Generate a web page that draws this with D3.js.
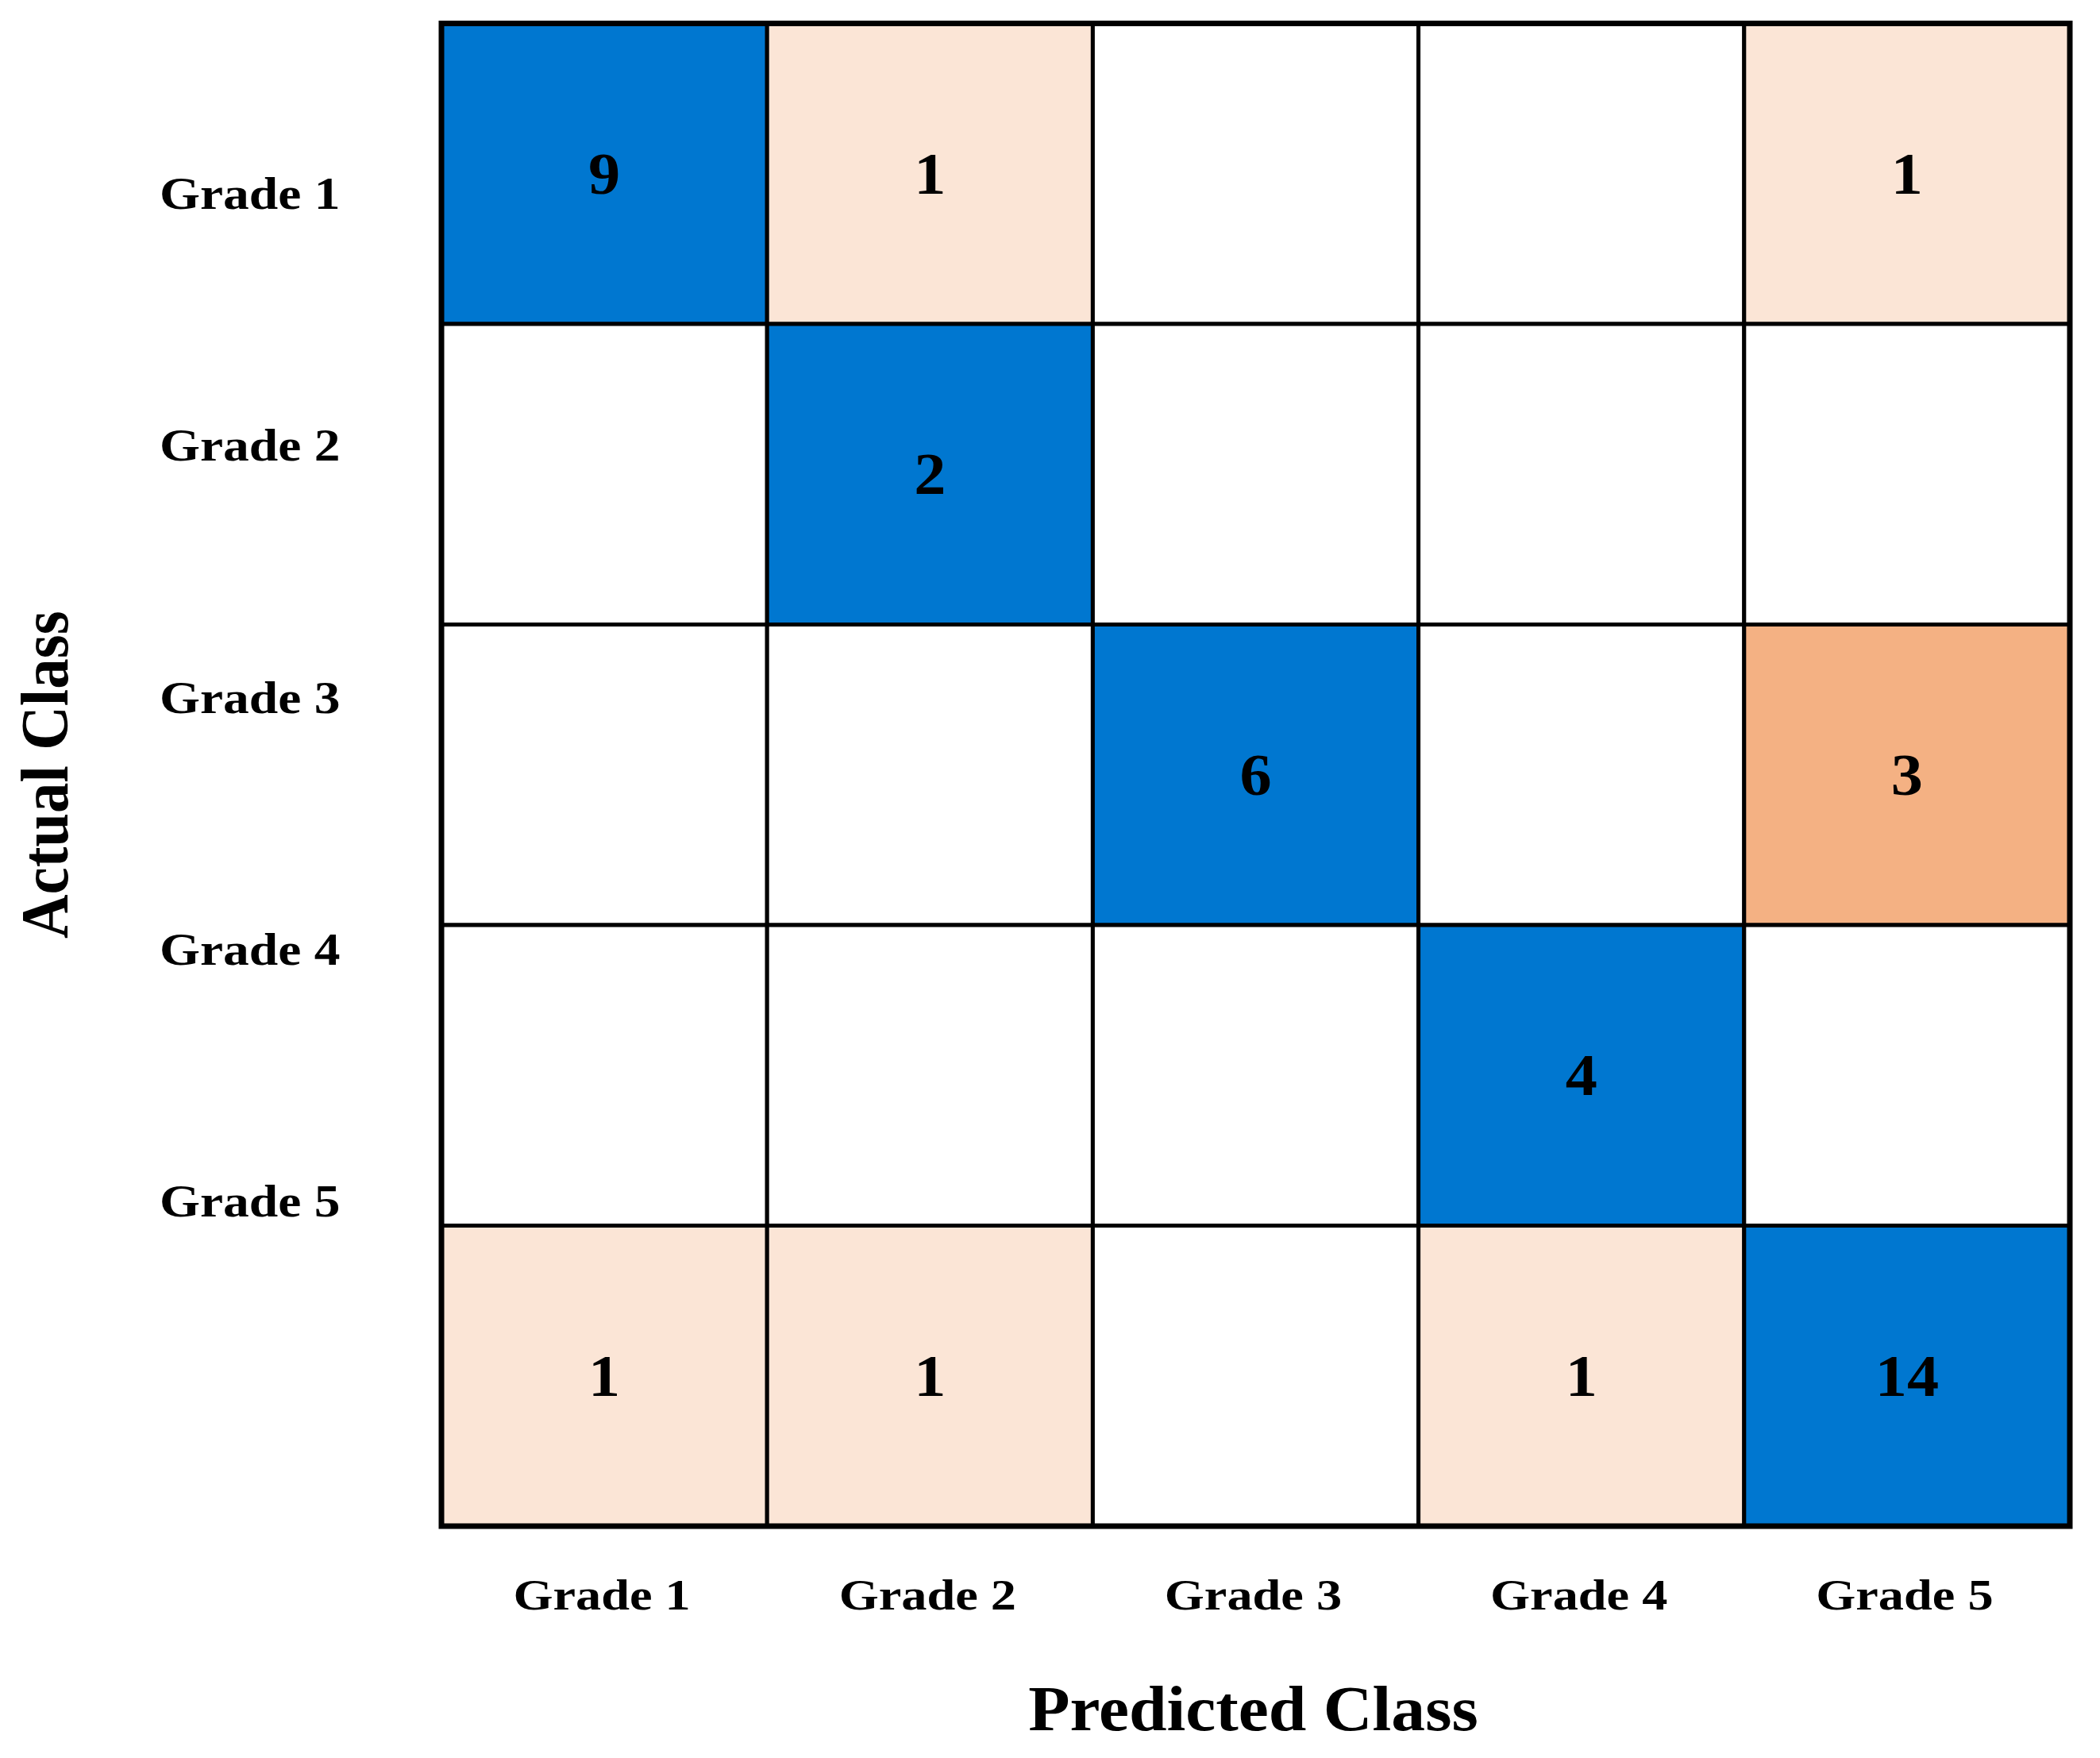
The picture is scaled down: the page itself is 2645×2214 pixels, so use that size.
<!DOCTYPE html>
<html>
<head>
<meta charset="utf-8">
<script src="https://cdn.jsdelivr.net/npm/d3@7"></script>
<style>
  html, body { margin: 0; padding: 0; background: #fff; }
  svg text { font-family: "Liberation Serif", "Times New Roman", serif; font-weight: bold; fill: #000; }
</style>
</head>
<body>
<svg id="chart" width="2645" height="2214"></svg>
<script>
// class labels (actual = rows, predicted = columns)
var classes = ['Grade 1', 'Grade 2', 'Grade 3', 'Grade 4', 'Grade 5'];

// confusion counts, one array per actual class
var grade1Row = [9, 1, 0, 0, 1];
var grade2Row = [0, 2, 0, 0, 0];
var grade3Row = [0, 0, 6, 0, 3];
var grade4Row = [0, 0, 0, 4, 0];
var grade5Row = [1, 1, 0, 1, 14];

var matrix = [grade1Row, grade2Row, grade3Row, grade4Row, grade5Row];

var xTitle = 'Predicted Class';
var yTitle = 'Actual Class';

var svg = d3.select('#chart');

var grid = { left: 556, right: 2607, top: 29.5, bottom: 1922 };

var x = d3.scaleBand().domain(classes).range([grid.left, grid.right]).padding(0);
var y = d3.scaleBand().domain(classes).range([grid.top, grid.bottom]).padding(0);
// the row labels in the figure sit on their own spacing, not on the row centres
var yLabel = d3.scalePoint().domain(classes).range([263, 1532]);

var offColor = d3.scaleLinear().domain([1, 3]).range(['#fbe5d6', '#f4b183']);

function cellFill(d) {
  if (d.value === 0) return '#ffffff';
  if (d.row === d.col) return '#0077d0';
  return offColor(d.value);
}

var cells = [];
matrix.forEach(function (row, i) {
  row.forEach(function (v, j) {
    cells.push({ row: i, col: j, actual: classes[i], predicted: classes[j], value: v });
  });
});

var g = svg.append('g');

g.selectAll('.cell')
  .data(cells)
  .enter().append('rect')
  .attr('class', 'cell')
  .attr('x', function (d) { return x(d.predicted); })
  .attr('y', function (d) { return y(d.actual); })
  .attr('width', x.bandwidth())
  .attr('height', y.bandwidth())
  .attr('fill', cellFill)
  .attr('stroke', '#000')
  .attr('stroke-width', 5);

// outer frame is heavier than the inner grid lines
g.append('rect')
  .attr('x', grid.left)
  .attr('y', grid.top)
  .attr('width', grid.right - grid.left)
  .attr('height', grid.bottom - grid.top)
  .attr('fill', 'none')
  .attr('stroke', '#000')
  .attr('stroke-width', 7);

g.selectAll('.count')
  .data(cells.filter(function (d) { return d.value > 0; }))
  .enter().append('text')
  .attr('class', 'count')
  .attr('transform', function (d) {
    return 'translate(' + (x(d.predicted) + x.bandwidth() / 2) + ',' + (y(d.actual) + y.bandwidth() / 2) + ') scale(1.1,1)';
  })
  .attr('text-anchor', 'middle')
  .attr('dy', '0.34em')
  .style('font-size', '73px')
  .text(function (d) { return d.value; });

// row labels
svg.selectAll('.ylabel')
  .data(classes)
  .enter().append('text')
  .attr('class', 'ylabel')
  .attr('transform', function (d) { return 'translate(201,' + yLabel(d) + ') scale(1.13,1)'; })
  .attr('text-anchor', 'start')
  .style('font-size', '58px')
  .text(function (d) { return d; });

// column labels
svg.selectAll('.xlabel')
  .data(classes)
  .enter().append('text')
  .attr('class', 'xlabel')
  .attr('transform', function (d) { return 'translate(' + (x(d) + x.bandwidth() / 2 - 3) + ',2027) scale(1.17,1)'; })
  .attr('text-anchor', 'middle')
  .style('font-size', '55px')
  .text(function (d) { return d; });

// axis titles
svg.append('text')
  .attr('transform', 'translate(' + ((grid.left + grid.right) / 2 - 3) + ',2179) scale(1.07,1)')
  .attr('text-anchor', 'middle')
  .style('font-size', '80px')
  .text(xTitle);

svg.append('text')
  .attr('transform', 'translate(85,' + ((grid.top + grid.bottom) / 2) + ') scale(1.11,1) rotate(-90)')
  .attr('text-anchor', 'middle')
  .style('font-size', '77px')
  .text(yTitle);
</script>
</body>
</html>
